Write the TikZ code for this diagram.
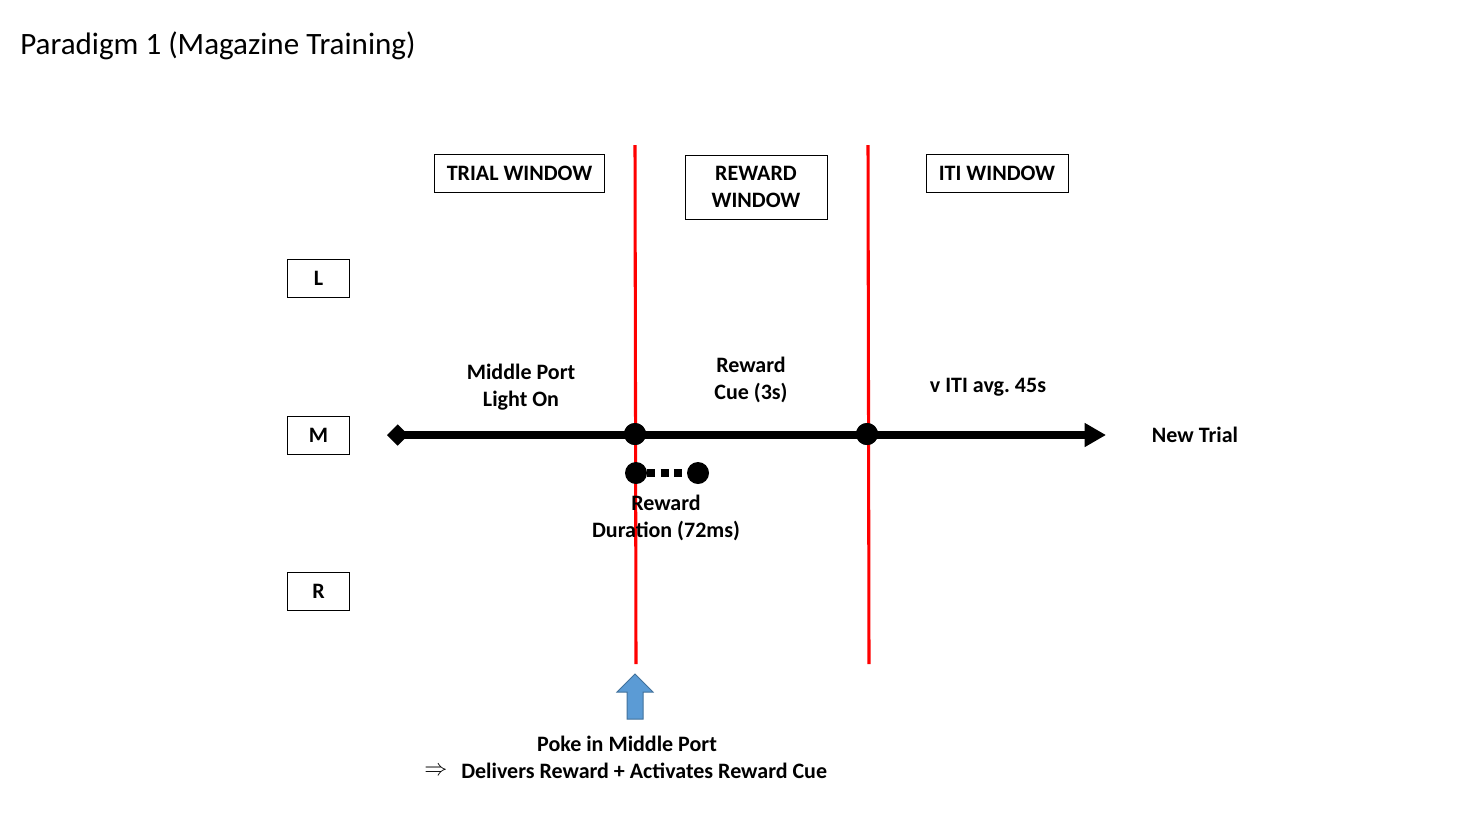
\documentclass[tikz,border=0pt]{standalone}
\usepackage{fontspec}
\setmainfont{Carlito}
\usetikzlibrary{arrows.meta}

\definecolor{pokefill}{RGB}{91,155,213}
\definecolor{pokeline}{RGB}{65,113,156}

\tikzset{
  lbl/.style={font=\fontsize{16.5}{20}\selectfont\bfseries, align=center, inner sep=0pt},
  winbox/.style={lbl, draw, line width=0.75pt, minimum height=28pt},
  portbox/.style={winbox, minimum width=47pt, minimum height=28.5pt},
  evt/.style={circle, fill=black, inner sep=0pt, minimum size=16.5pt},
  cut/.style={draw=red, line width=2.3pt},
}

\begin{document}
\begin{tikzpicture}[x=0.75pt, y=-0.75pt]
            \useasboundingbox (0, 0) rectangle (1480, 822);

            \node[anchor=west, inner sep=0pt, font=\fontsize{23.3}{28}\selectfont] (title) at (20, 46) {Paradigm 1 (Magazine Training)};

            \node[winbox, minimum width=128pt] (trialwin) at (519.5, 173.5) {TRIAL WINDOW};
            \node[winbox, minimum width=106.5pt, minimum height=48pt] (rewardwin) at (756, 187) {REWARD\\WINDOW};
            \node[winbox, minimum width=106.5pt] (itiwin) at (997, 173.5) {ITI WINDOW};

            \node[portbox] (portL) at (318.5, 278) {L};
            \node[portbox] (portM) at (318.5, 435) {M};
            \node[portbox] (portR) at (318.5, 591.5) {R};

            \coordinate (cutAtop) at (635, 145);
            \coordinate (cutAbot) at (636, 664);
            \coordinate (cutBtop) at (868, 145);
            \coordinate (cutBbot) at (869, 664);
            \draw[cut] (cutAtop) -- (cutAbot);
            \draw[cut] (cutBtop) -- (cutBbot);

            \coordinate (lineStart) at (387, 435);
            \coordinate (lineEnd) at (1106, 435);
            \node[evt] (pokeEvt) at (635, 434) {};
            \node[evt] (cueEnd) at (867, 434) {};
            \draw[line width=5.5pt, {Diamond[length=16pt,width=16pt]}-{Triangle[length=16pt,width=17pt]}] (lineStart) -- (lineEnd);
            \node[evt] at (pokeEvt) {};
            \node[evt] at (cueEnd) {};

            \node[evt] (rewOn) at (636, 473) {};
            \node[evt] (rewOff) at (698, 473) {};
            \draw[line width=6pt, dash pattern=on 6pt off 4pt] (rewOn) -- (rewOff);

            \node[lbl] (portLight) at (521, 387) {Middle Port\\Light On};
            \node[lbl] (cueLbl) at (751, 380) {Reward\\Cue (3s)};
            \node[lbl] (itiLbl) at (988, 387) {v ITI avg.\ 45s};
            \node[lbl] (newTrial) at (1195, 435) {New Trial};
            \node[lbl] (durLbl) at (666, 518) {Reward\\Duration (72ms)};

            \draw[draw=pokeline, fill=pokefill, line width=0.75pt] (635, 674) -- (653, 692) -- (643, 692) -- (643, 719)
                  -- (627, 719) -- (627, 692) -- (617, 692) -- cycle;

            \node[lbl] (pokeLbl) at (627, 744) {Poke in Middle Port};
            \node[lbl, anchor=west] (deliverLbl) at (461, 771) {Delivers Reward + Activates Reward Cue};
            \node[lbl, anchor=center] (impl) at (436, 771) {$\Rightarrow$};
\end{tikzpicture}
\end{document}
